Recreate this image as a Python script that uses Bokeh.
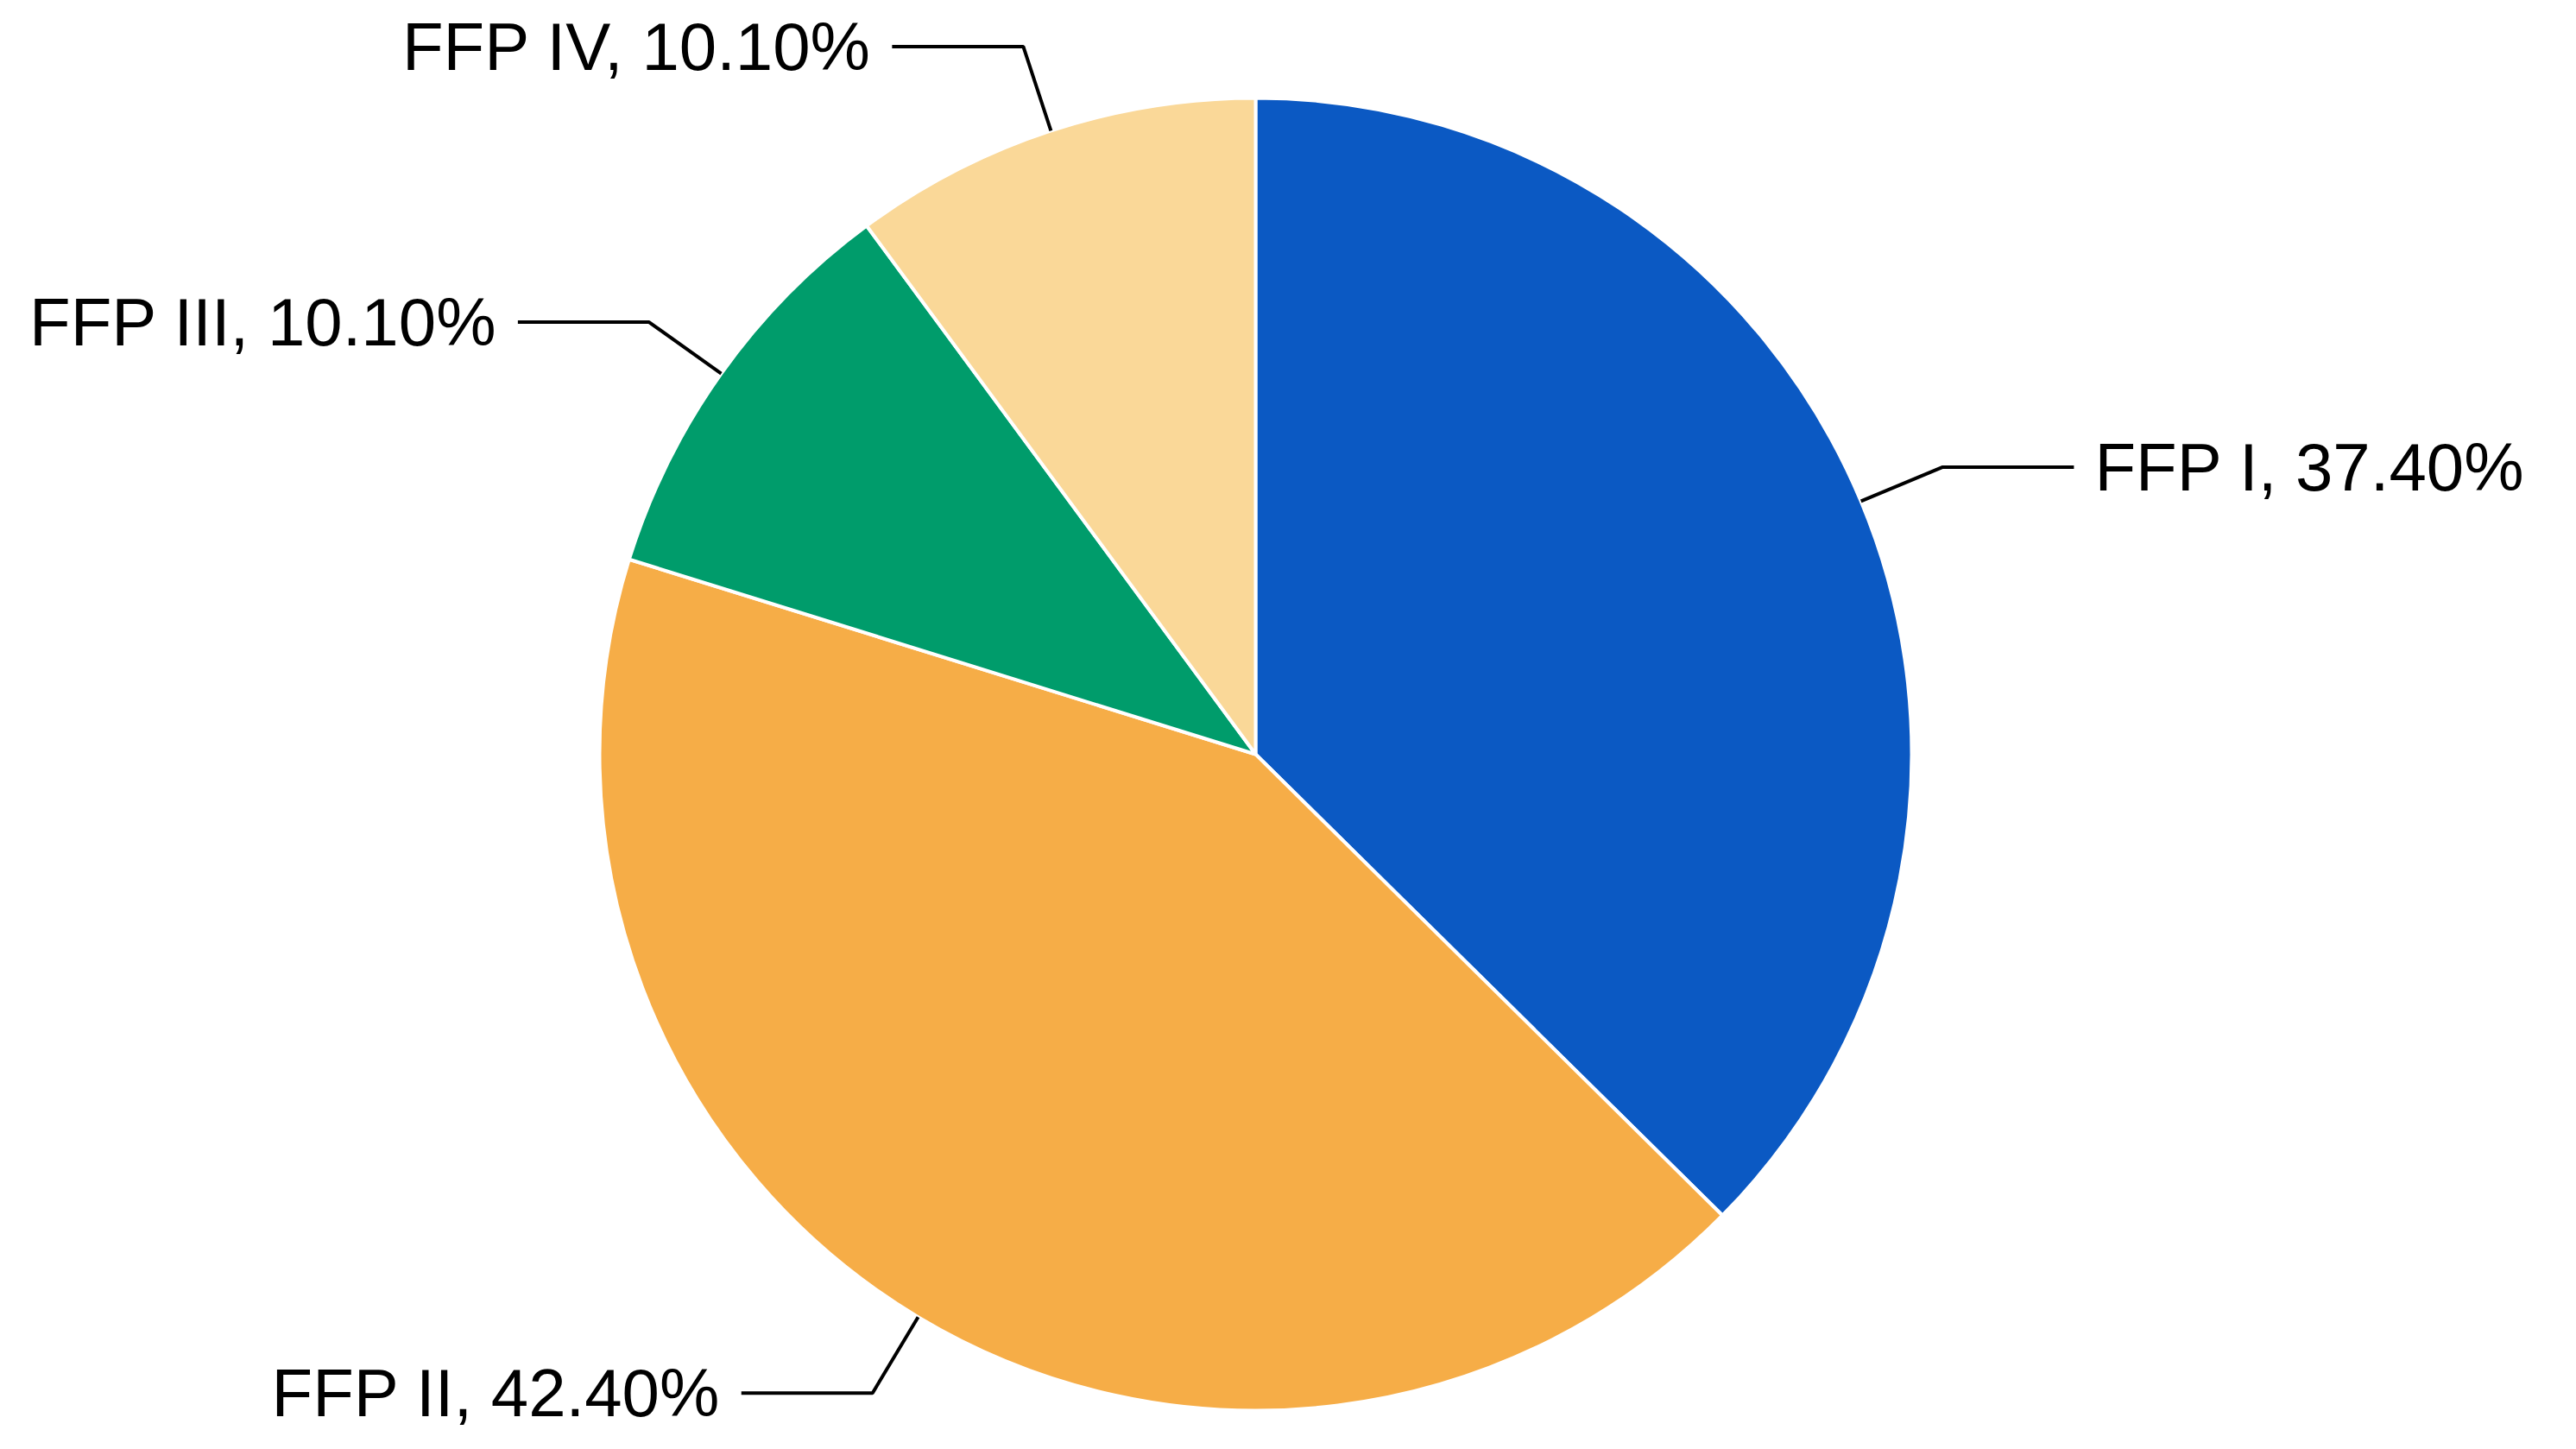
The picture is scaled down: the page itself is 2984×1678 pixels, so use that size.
import numpy as np
from bokeh.plotting import figure
from bokeh.models import Range1d, ColumnDataSource
from bokeh.embed import file_html
from bokeh.resources import INLINE
from bokeh.core.properties import value

# ---- data ----
categories = ["FFP I", "FFP II", "FFP III", "FFP IV"]
shares = [37.4, 42.4, 10.1, 10.1]
colors = ["#0B59C3", "#F6AD47", "#009C6B", "#FAD898"]

# ---- layout (pixels) ----
W, H = 2968, 1662
cx_px, cy_px = 1454, 873
R_px = 760

xr = Range1d(-cx_px / R_px, (W - cx_px) / R_px)
yr = Range1d(-(H - cy_px) / R_px, cy_px / R_px)

p = figure(width=W, height=H, x_range=xr, y_range=yr, output_backend="svg",
           toolbar_location=None, min_border=0,
           x_axis_location=None, y_axis_location=None)
p.grid.visible = False
p.outline_line_color = None
p.background_fill_color = "white"
p.border_fill_color = "white"

vals = np.array(shares, dtype=float)
frac = vals / vals.sum()
cum = np.concatenate([[0.0], np.cumsum(frac)])
start = np.pi / 2 - 2 * np.pi * cum[:-1]
end = np.pi / 2 - 2 * np.pi * cum[1:]
mid = (start + end) / 2

src = ColumnDataSource(dict(cat=categories, start=start, end=end, color=colors))
p.wedge(x=0, y=0, radius=1.0, start_angle="start", end_angle="end",
        direction="clock", fill_color="color", line_color="white",
        line_width=4, source=src)

# leader lines
r_elbow = 1.135
seg = 152 / R_px
gap = 24 / R_px
xs, ys, tx, ty, align, labels = [], [], [], [], [], []
for c, v, a in zip(categories, shares, mid):
    x0, y0 = np.cos(a), np.sin(a)
    x1, y1 = r_elbow * np.cos(a), r_elbow * np.sin(a)
    side = 1 if x1 >= 0 else -1
    x2 = x1 + side * seg
    xs.append([x0, x1, x2])
    ys.append([y0, y1, y1])
    tx.append(x2 + side * gap)
    ty.append(y1)
    align.append("left" if side > 0 else "right")
    labels.append(f"{c}, {v:.2f}%")

p.multi_line(xs=xs, ys=ys, line_color="#000000", line_width=4)
lsrc = ColumnDataSource(dict(x=tx, y=ty, text=labels, align=align))
p.text(x="x", y="y", text="text", text_align="align", text_baseline="middle",
       text_font=value("Liberation Sans"), text_font_size="78px",
       text_color="#000000", source=lsrc)

open("out.html", "w").write(file_html(p, INLINE))
